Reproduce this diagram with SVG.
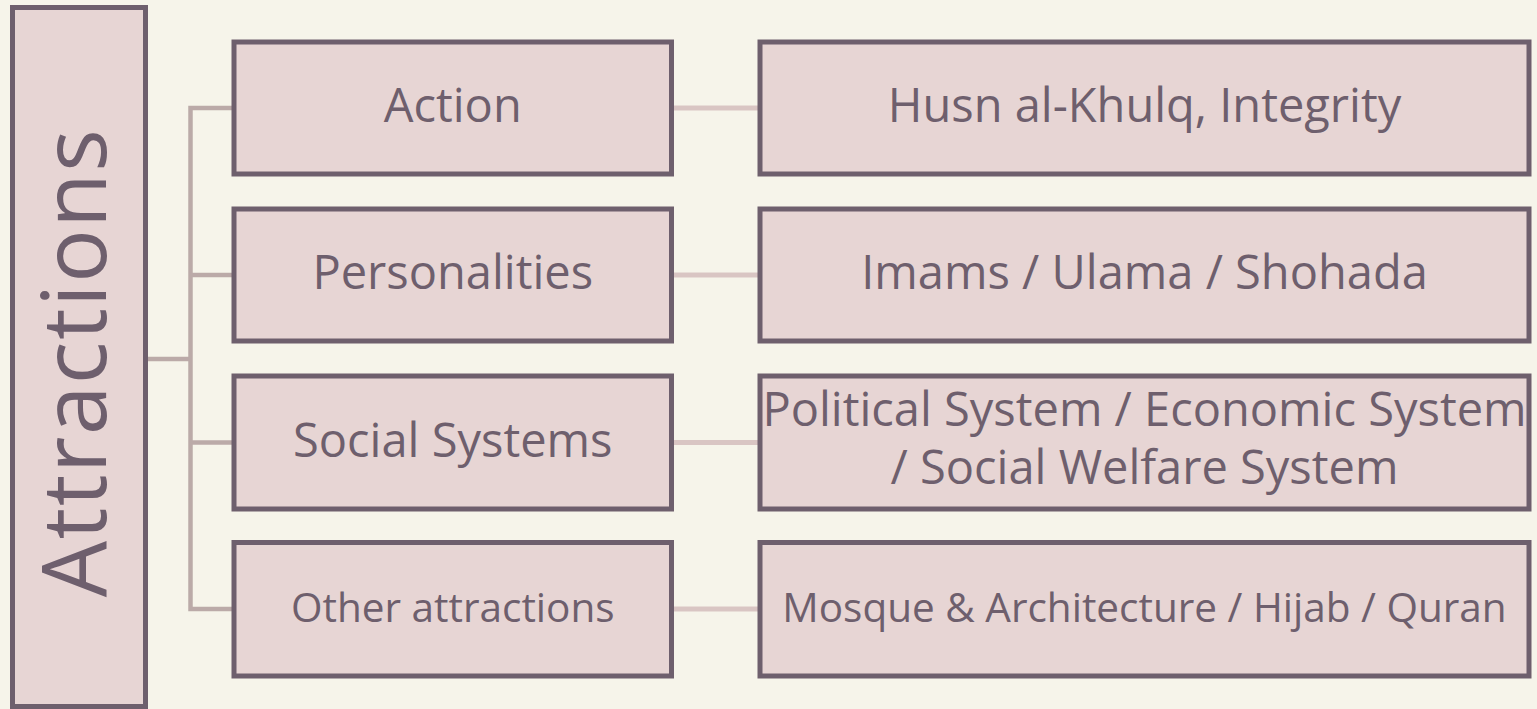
<svg xmlns="http://www.w3.org/2000/svg" width="1537" height="709" viewBox="0 0 1537 709">
<style>
.box{fill:#e7d5d4;stroke:#6e5f6d;stroke-width:5}
.t{font-family:"Open Sans","Noto Sans",sans-serif;fill:#6e5f6d;text-anchor:middle}
.l{font-size:47px}
.s{font-size:40.5px}
.tree{stroke:#bbaaa8;stroke-width:4.5;fill:none}
.link{stroke:#d9c5c3;stroke-width:5;fill:none}
</style>
<rect x="0" y="0" width="1537" height="709" fill="#f6f4ea"/>
<g id="connectors">
<line class="tree" x1="148" y1="359" x2="190.5" y2="359"/>
<polyline class="tree" points="234,108 190.5,108 190.5,609 234,609"/>
<line class="tree" x1="190.5" y1="275" x2="234" y2="275"/>
<line class="tree" x1="190.5" y1="442.5" x2="234" y2="442.5"/>
<line class="link" x1="671.5" y1="108" x2="760" y2="108"/>
<line class="link" x1="671.5" y1="275" x2="760" y2="275"/>
<line class="link" x1="671.5" y1="442.5" x2="760" y2="442.5"/>
<line class="link" x1="671.5" y1="609" x2="760" y2="609"/>
</g>
<g id="root">
<rect class="box" x="12.5" y="7.5" width="133" height="699"/>
<text class="t" transform="translate(106,362.5) rotate(-90)" style="font-size:89px;letter-spacing:1.5px">Attractions</text>
</g>
<g id="action">
<rect class="box" x="234" y="42" width="437.5" height="132"/>
<text class="t l" x="452.75" y="122">Action</text>
</g>
<g id="personalities">
<rect class="box" x="234" y="209" width="437.5" height="132"/>
<text class="t l" x="452.75" y="289">Personalities</text>
</g>
<g id="social">
<rect class="box" x="234" y="376" width="437.5" height="133"/>
<text class="t l" x="452.75" y="456.5">Social Systems</text>
</g>
<g id="other">
<rect class="box" x="234" y="542.5" width="437.5" height="133.5"/>
<text class="t s" x="452.75" y="621.5">Other attractions</text>
</g>
<g id="husn">
<rect class="box" x="760" y="42" width="769" height="132"/>
<text class="t l" x="1144.5" y="122">Husn al-Khulq, Integrity</text>
</g>
<g id="imams">
<rect class="box" x="760" y="209" width="769" height="132"/>
<text class="t l" x="1144.5" y="289">Imams / Ulama / Shohada</text>
</g>
<g id="systems">
<rect class="box" x="760" y="376" width="769" height="133"/>
<text class="t l" x="1144.5" y="425.5">Political System / Economic System</text>
<text class="t l" x="1144.5" y="484">/ Social Welfare System</text>
</g>
<g id="mosque">
<rect class="box" x="760" y="542.5" width="769" height="133.5"/>
<text class="t s" x="1144.5" y="621.5">Mosque &amp; Architecture / Hijab / Quran</text>
</g>
</svg>
